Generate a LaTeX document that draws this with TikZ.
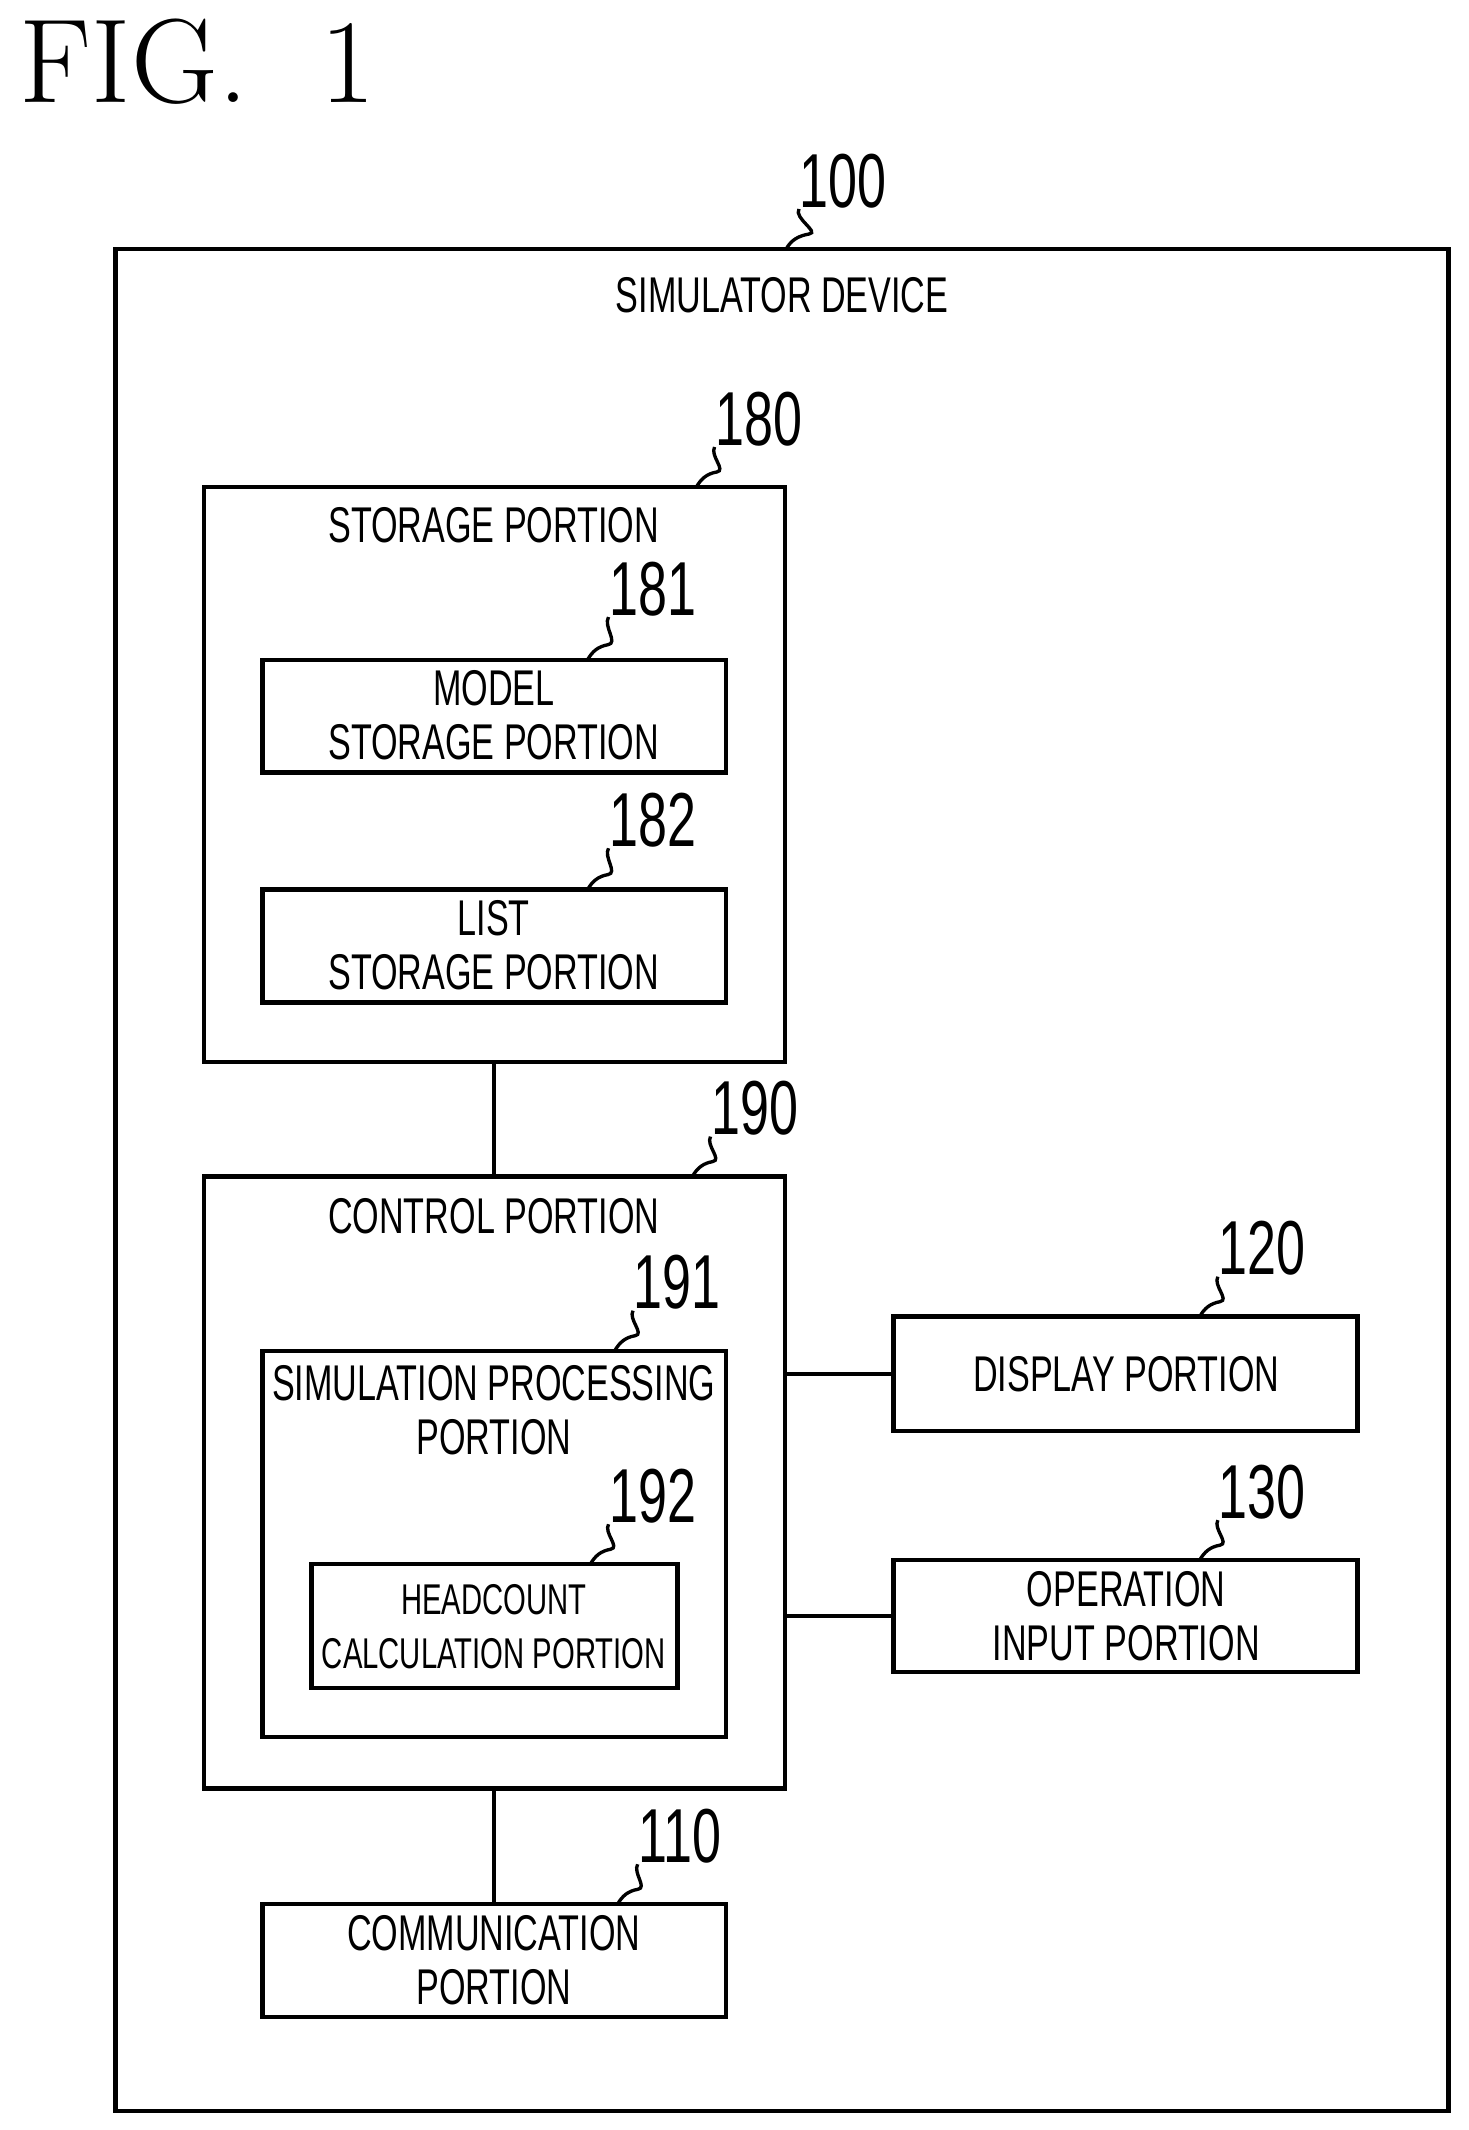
\documentclass[tikz,border=0pt]{standalone}
\usepackage{fontspec}
\newfontfamily\lbl{Liberation Sans}[FakeStretch=0.68]
\begin{document}
\tikzset{
  blk/.style={draw, line width=0.9pt},
  txt/.style={font=\lbl\fontsize{10.5}{11.3}\selectfont, align=center, inner sep=0pt},
  num/.style={font=\lbl\fontsize{16}{16}\selectfont, inner sep=0pt},
  lead/.style={line width=0.7pt}
}
\begin{tikzpicture}[x=0.01cm,y=-0.01cm]
\useasboundingbox (0,0) rectangle (1080,1566);
\node[font=\rmfamily\fontsize{25}{25}\selectfont, inner sep=0pt, anchor=west] (fig) at (14,45) {FIG.\ \ 1};
%outer device
\draw[blk] (85,183) rectangle (1065,1552);
\node[txt] (dev) at (575,217) {SIMULATOR DEVICE};
\node[num] (n100) at (620,133) {100};
\draw[lead] (578,183) to[out=60,in=190] (595,172) to[out=10,in=240] (n100.south west);
%storage
\draw[blk] (150,358) rectangle (577,781);
\node[txt] (sto) at (363,386) {STORAGE PORTION};
\node[num] (n180) at (558,308) {180};
\draw[lead] (512,358) to[out=60,in=190] (527,347) to[out=10,in=240] (n180.south west);
\draw[blk] (193,485) rectangle (534,568);
\node[txt] (mdl) at (363,526) {MODEL\\STORAGE PORTION};
\node[num] (n181) at (480,433) {181};
\draw[lead] (432,485) to[out=60,in=190] (447,474) to[out=10,in=240] (n181.south west);
\draw[blk] (193,654) rectangle (534,737);
\node[txt] (lst) at (363,695) {LIST\\STORAGE PORTION};
\node[num] (n182) at (480,603) {182};
\draw[lead] (432,654) to[out=60,in=190] (447,643) to[out=10,in=240] (n182.south west);
%control
\draw[blk] (363,781) -- (363,865);
\draw[blk] (150,865) rectangle (577,1315);
\node[txt] (ctl) at (363,894) {CONTROL PORTION};
\node[num] (n190) at (555,815) {190};
\draw[lead] (509,865) to[out=60,in=190] (524,854) to[out=10,in=240] (n190.south west);
\draw[blk] (193,993) rectangle (534,1277);
\node[txt] (sim) at (363,1037) {SIMULATION PROCESSING\\PORTION};
\node[num] (n191) at (498,943) {191};
\draw[lead] (452,993) to[out=60,in=190] (467,982) to[out=10,in=240] (n191.south west);
\draw[blk] (229,1150) rectangle (498,1241);
\node[txt, font=\lbl\fontsize{9}{11.3}\selectfont] (hc) at (363,1196) {HEADCOUNT\\CALCULATION PORTION};
\node[num] (n192) at (480,1100) {192};
\draw[lead] (434,1150) to[out=60,in=190] (449,1139) to[out=10,in=240] (n192.south west);
%display / input
\draw[blk] (657,968) rectangle (998,1052);
\node[txt] (dsp) at (828,1010) {DISPLAY PORTION};
\node[num] (n120) at (928,918) {120};
\draw[lead] (882,968) to[out=60,in=190] (897,957) to[out=10,in=240] (n120.south west);
\draw[blk] (577,1010) -- (657,1010);
\draw[blk] (657,1147) rectangle (998,1229);
\node[txt] (inp) at (828,1188) {OPERATION\\INPUT PORTION};
\node[num] (n130) at (928,1097) {130};
\draw[lead] (882,1147) to[out=60,in=190] (897,1136) to[out=10,in=240] (n130.south west);
\draw[blk] (577,1188) -- (657,1188);
%communication
\draw[blk] (363,1315) -- (363,1400);
\draw[blk] (193,1400) rectangle (534,1483);
\node[txt] (com) at (363,1441) {COMMUNICATION\\PORTION};
\node[num] (n110) at (500,1350) {110};
\draw[lead] (454,1400) to[out=60,in=190] (469,1389) to[out=10,in=240] (n110.south west);
\end{tikzpicture}
\end{document}
